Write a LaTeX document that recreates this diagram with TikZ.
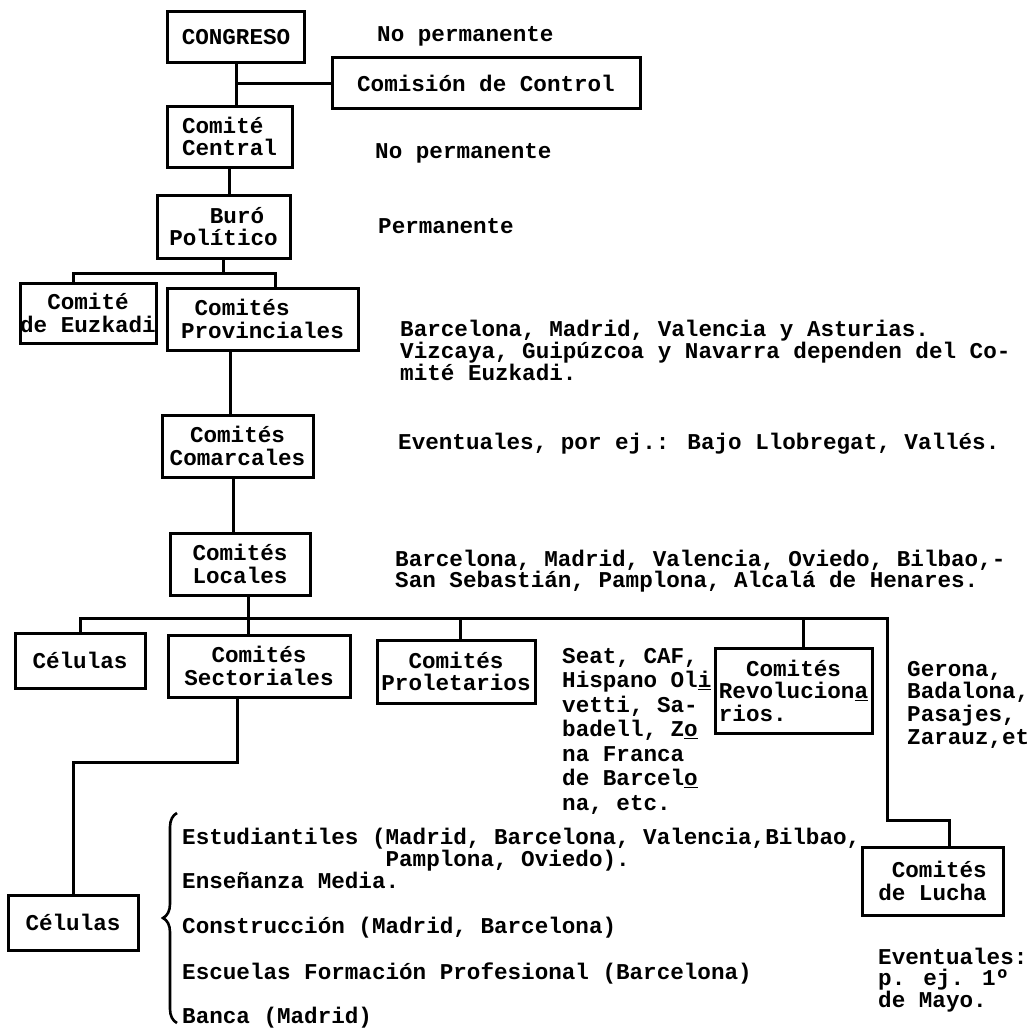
\documentclass[tikz,border=0pt]{standalone}
\usepackage{fontspec}
\newfontfamily\twfam{Liberation Mono}
\usetikzlibrary{decorations.pathreplacing}
\newcommand\twf[1]{\twfam\bfseries\fontsize{22.6}{#1}\selectfont}
\newcommand\tpstrut{\rule{0pt}{18pt}}
\newcommand\chsp[1]{\hspace*{#1\dimexpr 0.6em\relax}}
\begin{document}
\begin{tikzpicture}[x=1pt,y=-1pt,
  box/.style={draw, line width=3pt, inner sep=0pt, align=center, font=\twf{22.5}},
  note/.style={inner sep=0pt, anchor=north west, align=left},
  line/.style={inner sep=0pt, anchor=base west, font=\twf{22.5}},
  conn/.style={line width=3pt}]
\useasboundingbox (0,0) rectangle (1036,1033);
\fill[white] (0,0) rectangle (1036,1033);

% boxes
\node[box, minimum width=137, minimum height=51] (cong) at (236,37.5) {CONGRESO};
\node[box, minimum width=308, minimum height=50] (comision) at (486,83) {Comisión de Control};
\node[box, minimum width=125, minimum height=61, align=left] (cc) at (229.5,136.5) {Comité\\Central};
\node[box, minimum width=133, minimum height=63, align=left] (buro) at (223.5,226.5) {\chsp{3}Buró\\Político};
\node[box, minimum width=136, minimum height=60] (euz) at (88,313) {Comité\\de Euzkadi};
\node[box, minimum width=191, minimum height=62, align=left] (prov) at (262.5,319) {\chsp{1}Comités\\Provinciales};
\node[box, minimum width=151, minimum height=62] (comar) at (237.5,446) {Comités\\Comarcales};
\node[box, minimum width=140, minimum height=62] (loc) at (240,564) {Comités\\Locales};
\node[box, minimum width=130, minimum height=55] (cel1) at (80,660.5) {Células};
\node[box, minimum width=182, minimum height=62] (sect) at (259,666) {Comités\\Sectoriales};
\node[box, minimum width=158, minimum height=63] (prol) at (456,671.5) {Comités\\Proletarios};
\node[box, minimum width=157, minimum height=85, align=left] (rev) at (793.5,690.5) {\chsp{2}Comités\\Revolucion\underline{a}\\rios.};
\node[box, minimum width=141, minimum height=68, align=left] (lucha) at (932.5,881) {\chsp{1}Comités\\de Lucha};
\node[box, minimum width=130, minimum height=55] (cel2) at (73,922.5) {Células};

% notes
\node[line] (n1) at (377,42) {No permanente};
\node[line] (n2) at (375,158) {No permanente};
\node[line] (n3) at (378,233) {Permanente};
\node[note, font=\twf{19.5}] (n4) at (400,318) {\tpstrut Barcelona, Madrid, Valencia y Asturias.\\Vizcaya, Guipúzcoa y Navarra dependen del Co-\\mité Euzkadi.};
\node[line] (n5) at (398,449) {Eventuales, por ej.: Bajo Llobregat, Vallés.};
\node[note, font=\twf{21}] (n6) at (395,548) {\tpstrut Barcelona, Madrid, Valencia, Oviedo, Bilbao,-\\San Sebastián, Pamplona, Alcalá de Henares.};
\node[note, font=\twf{24.5}] (n7) at (562,645) {\tpstrut Seat, CAF,\\Hispano Ol\underline{i}\\vetti, Sa-\\badell, Z\underline{o}\\na Franca\\de Barcel\underline{o}\\na, etc.};
\node[note, font=\twf{22.7}] (n8) at (907,658) {\tpstrut Gerona,\\Badalona,\\Pasajes,\\Zarauz,et};
\node[note, font=\twf{21}] (n9) at (878,946) {\tpstrut Eventuales:\\p. ej. 1º\\de Mayo.};
\node[note, font=\twf{21}] (lst) at (182,826) {\tpstrut Estudiantiles (Madrid, Barcelona, Valencia,Bilbao,\\\chsp{15}Pamplona, Oviedo).\\Enseñanza Media.\\[24pt]Construcción (Madrid, Barcelona)\\[24pt]Escuelas Formación Profesional (Barcelona)\\[22pt]Banca (Madrid)};

% brace
\coordinate (bb) at (177,1023);
\coordinate (bt) at (177,813);
\draw[line width=2.6pt, decorate, decoration={brace, amplitude=14pt}] (bb) -- (bt);

% connectors
\coordinate (j1) at (223.5,273);
\coordinate (j2) at (248,618);
\coordinate (jr) at (887,618);
\coordinate (jr2) at (887,820);
\coordinate (j3) at (237,762);
\draw[conn] (cong.south) -- (cong.south |- cc.north);
\draw[conn] (cong.south |- comision.west) -- (comision.west);
\draw[conn] (cc.south) -- (cc.south |- buro.north);
\draw[conn] (buro.south) -- (j1);
\draw[conn] ([xshift=-15]euz.north) |- (j1) -| ([xshift=12.5]prov.north);
\draw[conn] ([xshift=-32]prov.south) -- ([xshift=-32]prov.south |- comar.north);
\draw[conn] ([xshift=-4]comar.south) -- ([xshift=-4]comar.south |- loc.north);
\draw[conn] ([xshift=8]loc.south) -- (j2);
\draw[conn] (cel1.north) |- (jr) -- (jr2) -| ([xshift=17]lucha.north);
\draw[conn] ([xshift=-11]sect.north) -- ([xshift=-11]sect.north |- j2);
\draw[conn] ([xshift=4]prol.north) -- ([xshift=4]prol.north |- j2);
\draw[conn] ([xshift=9.5]rev.north) -- ([xshift=9.5]rev.north |- j2);
\draw[conn] ([xshift=-22]sect.south) -- (j3) -| (cel2.north);
\end{tikzpicture}
\end{document}
